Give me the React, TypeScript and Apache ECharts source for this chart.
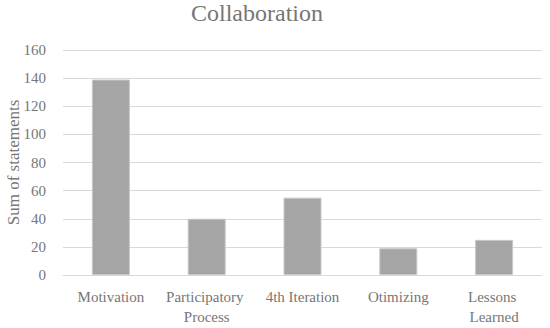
import React, { useEffect, useRef } from "react";
import * as echarts from "echarts";

const categories = ["Motivation", "Participatory Process", "4th Iteration", "Otimizing", "Lessons Learned"];
const values = [139, 40, 55, 19, 25];
const chartTitle = "Collaboration";
const yAxisName = "Sum of statements";

const FONT = "Liberation Serif";
const TEXT = "#767676";

export default function App() {
  const ref = useRef<HTMLDivElement>(null);
  useEffect(() => {
    if (!ref.current) return;
    const chart = echarts.init(ref.current, undefined, { renderer: "svg" });
    chart.setOption({
      animation: false,
      backgroundColor: "#ffffff",
      textStyle: { fontFamily: FONT },
      title: {
        text: chartTitle,
        left: 257,
        textAlign: "center",
        top: 1,
        padding: 0,
        textStyle: { fontFamily: FONT, fontSize: 24, fontWeight: "normal", color: TEXT },
      },
      grid: { left: 63, right: 8, top: 50, bottom: 53, outerBoundsMode: "none", containLabel: false },
      xAxis: {
        type: "category",
        data: categories,
        axisLine: { lineStyle: { color: "#d9d9d9", width: 1 } },
        axisTick: { show: false },
        axisLabel: {
          fontFamily: FONT,
          fontSize: 15,
          color: TEXT,
          margin: 12,
          interval: 0,
          width: 92,
          overflow: "break",
          lineHeight: 20,
        },
      },
      yAxis: {
        type: "value",
        min: 0,
        max: 160,
        interval: 20,
        name: yAxisName,
        nameLocation: "middle",
        nameGap: 41,
        nameMoveOverlap: false,
        nameTextStyle: { fontFamily: FONT, fontSize: 17, color: TEXT },
        axisLine: { show: false },
        axisTick: { show: false },
        splitLine: { lineStyle: { color: "#d9d9d9", width: 1 } },
        axisLabel: { fontFamily: FONT, fontSize: 15, color: TEXT, margin: 17 },
      },
      series: [
        {
          type: "bar",
          data: values,
          barWidth: 38,
          itemStyle: { color: "#a5a5a5", borderColor: "#c8c8c8", borderWidth: 1 },
        },
      ],
    });
    return () => chart.dispose();
  }, []);
  return <div ref={ref} style={{ width: 550, height: 328, position: "absolute", left: 0, top: 0 }} />;
}
